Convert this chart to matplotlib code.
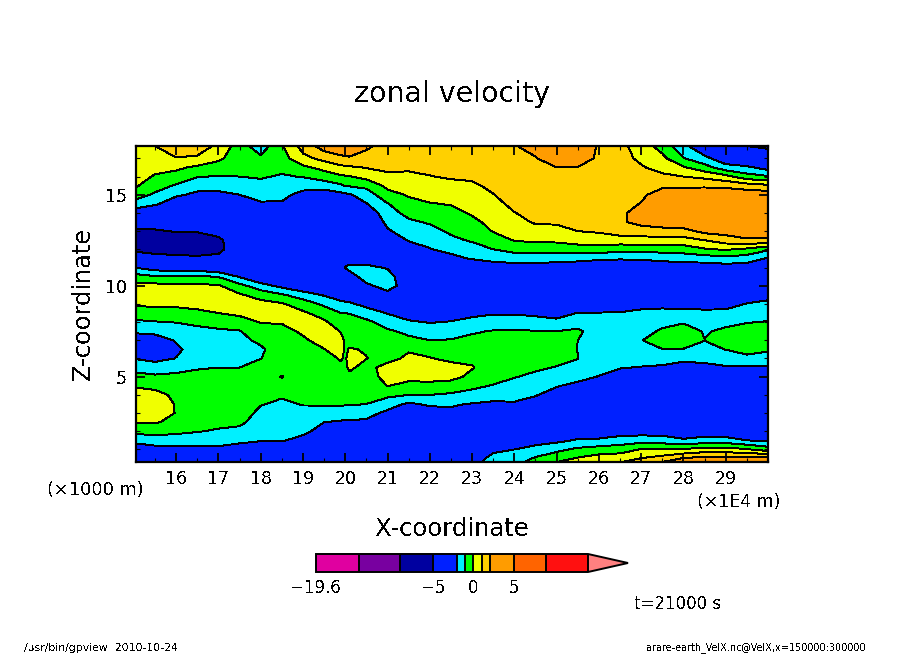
import numpy as np
import matplotlib
matplotlib.use("Agg")
import matplotlib.pyplot as plt
from matplotlib.colors import ListedColormap, BoundaryNorm
from matplotlib.ticker import MultipleLocator

plt.rcParams['font.family'] = ['DejaVu Sans']
plt.rcParams['text.antialiased'] = False

W, H = 904, 654

levels = [-19.6, -14.2, -9.2, -5, -2, -1, 0, 1, 2, 5, 9, 14.25]
band_colors = ['#E000A0', '#7800A0', '#0000A0', '#0020FF', '#00F0FF', '#00FF00',
               '#F0FF00', '#FFD000', '#FF9C00', '#FF6400', '#FF1010']
over_color = '#FF8080'

x_coord = [15.05, 15.5, 16, 16.5, 17, 17.5, 18, 18.5, 19, 19.5, 19.9, 20, 20.1, 20.5, 21, 21.5,
           22, 22.5, 23, 23.5, 24, 24.5, 25, 25.5, 26, 26.5, 27, 27.5, 28, 28.5, 29, 29.5, 30]
z_coord = [0.31, 0.5, 1, 1.5, 2, 2.5, 3, 3.5, 4, 4.5, 5, 5.5, 6, 6.5, 7, 7.5, 8, 8.5, 9, 9.5,
           10, 10.5, 11, 11.5, 12, 12.5, 13, 13.5, 14, 14.5, 15, 15.5, 16, 16.5, 17, 17.68]

# one list per x position, bottom to top
velocity_columns = [
 [-3.5,-3.2,-2.6,-1.7,-.7,.1,.6,.8,.4, -.1,-.7,-1.35,-2.05,-2.6,-2.5,-1.85,-1.15,-.5, .15,.6,.25,-.6,-2.05,-3.9,-5.4,-6,-5.4, -3.9,-2.6,-1.45,-.55,.1,.4,.6,.7,.8],
 [-3.6,-3.3,-2.4,-1.45,-.65,.1,.6,.8,.3, -.25,-.85,-1.5,-2.3,-2.9,-2.6,-1.65,-1.05,-.4, .2,.6,.3,-.9,-2.5,-4.4,-5.6,-6,-5.2, -4.1,-2.9,-1.85,-1.15,-.6,-.1,.3,.65,1.0],
 [-3.6,-3.3,-2.4,-1.45,-.8,-.3,-.05,-.1,-.2, -.5,-.8,-1.3,-1.97,-2.2,-1.9,-1.45,-.97,-.35, .2,.55,.2,-.9,-2.7,-4.7,-5.5,-5.8,-4.9, -4.1,-3.4,-2.6,-1.85,-1.1,-.4,.2,.95,1.6],
 [-3.6,-3.3,-2.3,-1.55,-.95,-.65,-.35,-.2,-.2, -.35,-.65,-1.1,-1.4,-1.55,-1.5,-1.25,-.8,-.2, .3,.6,.2,-.85,-2.7,-4.8,-5.5,-5.7,-4.9, -4.1,-3.4,-2.8,-2.2,-1.65,-.95,-.2,.85,1.5],
 [-3.6,-3.3,-2.2,-1.65,-1.1,-.75,-.5,-.3,-.25, -.4,-.65,-1.0,-1.25,-1.4,-1.35,-1.15,-.6,0, .4,.6,.1,-1.05,-3,-4.7,-5.3,-5.3,-4.5, -3.9,-3.3,-2.7,-2.2,-1.7,-1.05,-.45,.2,.8],
 [-3.5,-3.2,-2.3,-1.85,-1.25,-.8,-.6,-.4,-.3, -.4,-.65,-1.0,-1.2,-1.3,-1.25,-1.05,-.4,.2, .5,.1,-.7,-2.1,-3,-3.5,-4.2,-4,-3.7, -3.4,-3,-2.5,-2,-1.5,-1,-.8,-.6,-.5],
 [-3.4,-3.2,-2.5,-1.95,-1.7,-1.45,-1.2,-.95,-.7, -.5,-.4,-.5,-1.02,-1.15,-.8,-.4,.05,.4, .3,-.4,-1.6,-3,-3.5,-3.6,-3.6,-3.5,-3.4, -3.1,-2.7,-2.1,-1.7,-1.3,-.9,-.6,-.8,-1.6],
 [-3.4,-3.2,-2.4,-1.95,-1.75,-1.55,-1.35,-1.15,-.9, -.7,-1.05,-.6,-.5,-.45,-.4,-.2,.05,.45, .1,-.9,-2.3,-3.2,-3.5,-3.6,-3.6,-3.6,-3.4, -3.1,-2.7,-2.1,-1.75,-1.4,-1.1,-.75,-.4,-.1],
 [-3.3,-3.1,-2.6,-2.2,-1.85,-1.55,-1.25,-.95,-.75, -.55,-.4,-.3,-.25,-.2,-.1,.1,.4,.15, -.5,-1.5,-2.9,-3.4,-3.6,-3.6,-3.6,-3.6,-3.5, -3.3,-3,-2.7,-2.3,-1.65,-.95,-.2,.7,1.4],
 [-3.2,-3.1,-2.8,-2.5,-2.25,-2,-1.45,-.9,-.7, -.55,-.4,-.3,-.2,-.02,.25,.5,.15,-.4, -1.2,-2.1,-3,-3.5,-3.6,-3.6,-3.6,-3.6,-3.6, -3.5,-3.3,-3,-2.5,-1.6,-.5,.3,1.3,2.5],
 [-3.2,-3.1,-2.9,-2.65,-2.4,-2.1,-1.5,-.85,-.7, -.5,-.3,-.1,.05,.3,.2,-.05,-.5,-1, -1.75,-2.5,-3.2,-3.4,-3.3,-3.4,-3.6,-3.6,-3.6, -3.6,-3.4,-3,-2.3,-1.15,-.15,.75,1.8,2.6],
 [-3.2,-3.1,-2.9,-2.7,-2.45,-2.15,-1.6,-.9,-.7, -.5,-.35,-.15,-.1,-.1,-.1,-.2,-.65,-1, -1.8,-2.6,-3.2,-3,-1.95,-2.6,-3.6,-3.6,-3.6, -3.6,-3.4,-3,-2.2,-.95,-.1,.8,1.85,2.6],
 [-3.2,-3.1,-2.9,-2.7,-2.5,-2.15,-1.5,-.9,-.7, -.5,-.2,.15,.3,.05,-.2,-.3,-.6,-1.05, -1.85,-2.6,-3.1,-2.5,-1.7,-2.6,-3.5,-3.6,-3.6, -3.6,-3.4,-2.9,-2.1,-.9,-.05,.85,1.9,2.6],
 [-3.2,-3.1,-2.9,-2.7,-2.45,-2.15,-1.7,-1,-.8, -.6,-.4,-.3,.02,-.05,-.15,-.3,-.75,-1.55, -2.3,-2.9,-2.2,-1.5,-1.75,-2.6,-3.2,-3.5,-3.5, -3.3,-2.8,-2.05,-1.5,-.75,.35,1.05,1.6,2.2],
 [-3.1,-3,-2.9,-2.8,-2.65,-2.5,-2.2,-1.6,-.75, .02,.3,.35,-.3,-.4,-.65,-.85,-1.45,-2.05, -2.8,-2.3,-1.6,-1.5,-2.1,-2.9,-3.2,-3,-2.15, -1.7,-1.35,-1.05,-.35,.25,.8,1.2,1.4,1.6],
 [-3,-3,-3,-3,-2.9,-2.75,-2.5,-2.15,-1, -.2,.2,.4,.2,-.1,-.75,-1.25,-1.9,-2.4, -2.6,-2.02,-2.5,-3,-3.3,-3.3,-2.9,-1.9,-1.45, -1.15,-.75,-.3,.1,.45,.8,1.15,1.4,1.6],
 [-3,-3,-3,-3,-2.9,-2.75,-2.45,-1.85,-1, -.2,.25,.4,.05,-.3,-1,-1.5,-2.05,-2.9, -3.2,-3.4,-3.5,-3.5,-3.4,-2.8,-2.05,-1.7,-1.3, -.9,-.45,-.05,.3,.65,.97,1.2,1.4,1.6],
 [-3,-3,-3,-2.85,-2.65,-2.4,-2.2,-1.9,-1.15, -.35,.25,.3,-.2,-.55,-.95,-1.4,-1.95,-2.5, -3,-3.3,-3.4,-3.4,-3.2,-2.3,-1.7,-1.2,-.85, -.55,-.25,.05,.4,.75,1.1,1.3,1.45,1.6],
 [-2.4,-2.5,-2.9,-2.8,-2.6,-2.4,-2.25,-2.05,-1.3, -.8,-.2,.05,-.15,-.45,-.8,-1.1,-1.7,-2.25, -2.8,-3.2,-3.4,-3.4,-3.1,-1.9,-1.4,-.9,-.55, -.2,.1,.35,.6,.85,1.15,1.3,1.45,1.6],
 [-1.6,-1.7,-2.2,-2.6,-2.75,-2.65,-2.5,-2.15,-1.65, -1.05,-.7,-.4,-.25,-.45,-.7,-.95,-1.5,-2.1, -2.7,-3.1,-3.3,-3.3,-2.6,-1.65,-1,-.45,.05, .25,.5,.7,.97,1.2,1.35,1.5,1.6,1.75],
 [-1.4,-1.55,-2,-2.4,-2.6,-2.6,-2.4,-2.1,-1.7, -1.3,-.95,-.6,-.4,-.45,-.65,-.9,-1.5,-2.1, -2.7,-3.1,-3.3,-3.2,-2.5,-1.5,-.7,.05,.35, .7,.97,1.25,1.4,1.55,1.65,1.8,1.9,1.95],
 [-.6,-.85,-1.75,-2.3,-2.5,-2.6,-2.5,-2.3,-1.95, -1.6,-1.2,-.85,-.6,-.5,-.65,-.97,-1.65,-2.2, -2.8,-3.1,-3.2,-3.1,-2.4,-1.55,-.7,.2,.65, 1.1,1.3,1.45,1.55,1.65,1.75,1.85,1.95,2.3],
 [0,-.35,-1.25,-2.25,-2.6,-2.7,-2.6,-2.45,-2.3, -1.95,-1.5,-1.05,-.7,-.55,-.7,-1,-1.75,-2.4, -2.9,-3.1,-3.2,-3.1,-2.6,-1.6,-.6,.2,.75, 1.1,1.25,1.4,1.5,1.65,1.8,2,2.5,3],
 [.4,.1,-.8,-1.9,-2.6,-2.8,-2.8,-2.7,-2.5, -2.2,-1.75,-1.25,-.98,-1.02,-1.0,-.85,-1.4,-1.97, -2.7,-3,-3.1,-3.1,-2.6,-1.7,-.5,.45,1, 1.2,1.3,1.45,1.55,1.7,1.85,1.97,2.6,3],
 [.85,.45,-.55,-1.85,-2.6,-2.9,-2.9,-2.8,-2.7, -2.4,-2.03,-1.75,-1.55,-1.45,-1.4,-1.4,-1.6,-1.97, -2.6,-2.9,-3,-3,-2.7,-1.85,-.4,.55,1.1, 1.25,1.35,1.45,1.55,1.6,1.7,1.75,1.8,1.85],
 [.95,.6,-.45,-1.55,-2.5,-2.9,-3,-3,-2.9, -2.7,-2.45,-1.95,-1.7,-1.5,-1.4,-1.45,-1.7,-1.95, -2.5,-2.8,-3,-3,-2.8,-1.9,-.7,.6,1.4, 1.8,1.7,1.6,1.55,1.5,1.45,1.4,1.35,1.3],
 [1.45,1.05,.05,-1.4,-2.5,-2.8,-3,-3.1,-3.1, -2.9,-2.6,-2.05,-1.6,-1.02,-1.03,-1.4,-1.7,-1.8, -2.3,-2.7,-2.9,-2.9,-2.8,-1.85,-.65,.7,1.4, 2.4,2.6,2.05,1.8,1.6,1.35,1.1,.8,.5],
 [2,1.45,.02,-1.5,-2.5,-2.9,-3.1,-3.2,-3.2, -3,-2.7,-2.15,-1.6,-1.02,-.6,-.85,-1.3,-1.75, -2.25,-2.6,-2.8,-2.9,-2.7,-1.7,-.6,.65,1.6, 2.6,2.9,2.9,2.5,1.8,1.2,.65,.25,-.4],
 [3,2.1,.1,-1.9,-2.5,-2.9,-3.2,-3.3,-3.3, -3.1,-2.7,-2.35,-1.8,-1.02,-.75,-.45,-1.1,-1.8, -2.25,-2.5,-2.7,-2.8,-2.6,-1.55,-.55,.65,1.65, 2.7,3,3,2.7,1.8,1,.1,-.95,-1.7],
 [3.2,2.4,.4,-1.6,-2.6,-3,-3.2,-3.3,-3.4, -3.3,-2.9,-2.3,-1.7,-1.3,-.98,-1.1,-1.45,-1.85, -2.25,-2.5,-2.7,-2.8,-2.6,-1.5,-.1,1,2.3, 3,3.1,3,2.6,1.85,.75,-.6,-1.7,-3],
 [3.2,2.35,.4,-1.6,-2.7,-3.1,-3.3,-3.4,-3.5, -3.4,-2.9,-2.1,-1.55,-.98,-.6,-.8,-1.25,-1.8, -2.3,-2.55,-2.7,-2.8,-2.5,-1.3,.1,1.5,2.4, 3,3.2,3.1,2.7,1.75,.3,-1.6,-2.7,-4],
 [3.2,2.4,.1,-2,-2.8,-3.2,-3.4,-3.4,-3.5, -3.4,-3,-2.15,-1.3,-.6,-.4,-.55,-1.05,-1.5, -1.97,-2.4,-2.6,-2.7,-2.5,-1.5,-.2,1.85,2.6, 3,3.2,3.1,2.6,1.5,-.6,-1.8,-3.2,-5],
 [3.2,2.5,-.5,-2.2,-2.8,-3.2,-3.4,-3.4,-3.4, -3.3,-2.8,-2.1,-1.5,-.85,-.6,-.6,-.95,-1.4, -1.8,-2.3,-2.6,-2.7,-2.6,-2.1,-.85,1.8,2.6, 3,3.2,3.1,2.6,1.2,-.9,-2.4,-3.3,-5.5],
]

x_major = [16, 17, 18, 19, 20, 21, 22, 23, 24, 25, 26, 27, 28, 29]
z_major = [5, 10, 15]
cbar_ticks = [-19.6, -5, 0, 5]
cbar_labels = ['\u221219.6', '\u22125', '0', '5']

cmap = ListedColormap(band_colors)
cmap.set_over(over_color)
norm = BoundaryNorm(levels, cmap.N, extend='neither')
U = np.array(velocity_columns).T

fig = plt.figure(figsize=(W / 100, H / 100), dpi=100, facecolor='white')


def box(l, t, r, b):
    return [l / W, 1 - b / H, (r - l) / W, (b - t) / H]


ax = fig.add_axes(box(136, 146, 768, 462))
cf = ax.contourf(x_coord, z_coord, U, levels=levels, cmap=cmap, norm=norm, extend='max', antialiased=False)
ax.contour(x_coord, z_coord, U, levels=levels, colors='black', linewidths=0.7, linestyles='solid', antialiased=False)
ax.set_xlim(15.05, 30)
ax.set_ylim(0.31, 17.68)
ax.set_xticks(x_major)
ax.set_yticks(z_major)
ax.xaxis.set_minor_locator(MultipleLocator(0.5))
ax.yaxis.set_minor_locator(MultipleLocator(1))
ax.tick_params(which='major', direction='in', length=6.2, width=1.3, top=True, right=True, labelsize=12.5)
ax.tick_params(which='minor', direction='in', length=3.1, width=0.8, top=True, right=True)
ax.tick_params(axis='x', which='major', pad=5.5)
ax.tick_params(axis='y', which='major', pad=6.5)
for s in ax.spines.values():
    s.set_linewidth(1.6)

cax = fig.add_axes(box(316, 554, 628, 572))
cb = fig.colorbar(cf, cax=cax, orientation='horizontal', extend='max', extendfrac=40 / 272,
                  spacing='proportional', drawedges=True)
cb.set_ticks(cbar_ticks, labels=cbar_labels)
cb.minorticks_off()
cb.ax.tick_params(length=0, labelsize=12, pad=5)
cb.outline.set_linewidth(1.4)
cb.dividers.set_linewidth(1.4)
cb.dividers.set_color('black')


def label(px, py, s, size, **kw):
    fig.text(px / W, 1 - py / H, s, fontsize=size, ha='center', va='center', **kw)


label(452.5, 94, 'zonal velocity', 20.5)
label(452.5, 529, 'X-coordinate', 17.5)
label(83, 304, 'Z-coordinate', 17.3, rotation=90)
label(95, 490, '(\u00d71000 m)', 12.8)
label(739, 502, '(\u00d71E4 m)', 12.5)
label(678, 604, 't=21000 s', 12)
label(101, 648, '/usr/bin/gpview  2010-10-24', 7.8)
label(756, 648, 'arare-earth_VelX.nc@VelX,x=150000:300000', 6.9)

fig.savefig('out.png', dpi=100, facecolor='white')
